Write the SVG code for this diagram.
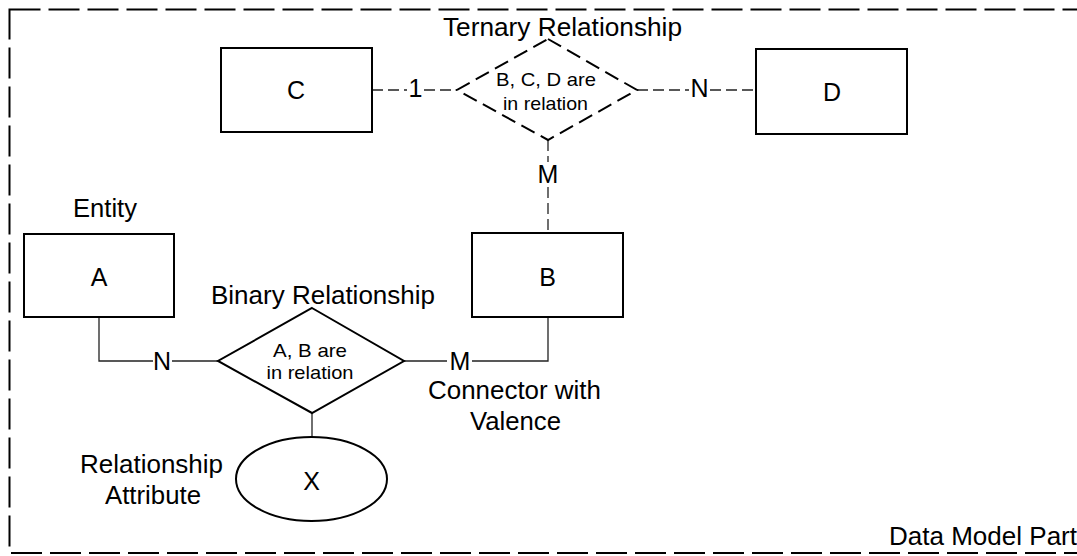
<svg xmlns="http://www.w3.org/2000/svg" width="1077" height="556" viewBox="0 0 1077 556">
<style>
text{font-family:"Liberation Sans",Arial,sans-serif;fill:#000;text-anchor:middle}
.lbl{font-size:25px}
.inner{font-size:19px}
.ent{fill:#fff;stroke:#000;stroke-width:2}
.rel{fill:#fff;stroke:#000;stroke-width:2}
.reld{fill:#fff;stroke:#000;stroke-width:2;stroke-dasharray:15 7}
.con{fill:none;stroke:#222;stroke-width:1.3}
.cond{fill:none;stroke:#222;stroke-width:1.3;stroke-dasharray:11 5}
</style>
<rect x="9.5" y="9.5" width="1090" height="543.5" fill="none" stroke="#000" stroke-width="2" stroke-dasharray="31 8"/>
<text class="lbl" x="983" y="545" textLength="188" lengthAdjust="spacingAndGlyphs">Data Model Part</text>

<g id="connectors">
  <polyline class="cond" points="372,90 407,90"/>
  <polyline class="cond" points="424,90 457,90"/>
  <text class="lbl" x="415.5" y="97">1</text>
  <polyline class="cond" points="637,90 689,90"/>
  <polyline class="cond" points="710,90 756,90"/>
  <text class="lbl" x="699.5" y="97">N</text>
  <polyline class="cond" points="548,140 548,162"/>
  <polyline class="cond" points="548,187 548,233"/>
  <text class="lbl" x="548" y="183">M</text>
  <polyline class="con" points="99,317 99,361 153,361"/>
  <polyline class="con" points="172,361 218,361"/>
  <text class="lbl" x="162" y="370">N</text>
  <polyline class="con" points="404,361 447,361"/>
  <polyline class="con" points="472,361 548,361 548,317"/>
  <text class="lbl" x="460" y="370">M</text>
  <polyline class="con" points="312,413 312,437"/>
  <text class="lbl" x="514.5" y="399" textLength="173" lengthAdjust="spacingAndGlyphs">Connector with</text>
  <text class="lbl" x="515.5" y="430" textLength="91" lengthAdjust="spacingAndGlyphs">Valence</text>
</g>

<g id="node-C">
  <rect class="ent" x="221" y="48" width="151" height="84"/>
  <text class="lbl" x="296" y="99">C</text>
</g>
<g id="node-D">
  <rect class="ent" x="756" y="49" width="151" height="85"/>
  <text class="lbl" x="832" y="101">D</text>
</g>
<g id="node-ternary">
  <text class="lbl" x="562.5" y="36" textLength="239" lengthAdjust="spacingAndGlyphs">Ternary Relationship</text>
  <polygon class="reld" points="548,39 637,90 548,140 457,90"/>
  <text class="inner" x="546" y="86" textLength="100" lengthAdjust="spacingAndGlyphs">B, C, D are</text>
  <text class="inner" x="545.5" y="110" textLength="85" lengthAdjust="spacingAndGlyphs">in relation</text>
</g>
<g id="node-A">
  <text class="lbl" x="105" y="217" textLength="64" lengthAdjust="spacingAndGlyphs">Entity</text>
  <rect class="ent" x="24" y="234" width="150" height="83"/>
  <text class="lbl" x="99" y="286">A</text>
</g>
<g id="node-B">
  <rect class="ent" x="472" y="233" width="151" height="84"/>
  <text class="lbl" x="547.5" y="286">B</text>
</g>
<g id="node-binary">
  <text class="lbl" x="323" y="304" textLength="224" lengthAdjust="spacingAndGlyphs">Binary Relationship</text>
  <polygon class="rel" points="312,308 404,361 312,413 218,361"/>
  <text class="inner" x="310" y="357" textLength="74" lengthAdjust="spacingAndGlyphs">A, B are</text>
  <text class="inner" x="310" y="379" textLength="87" lengthAdjust="spacingAndGlyphs">in relation</text>
</g>
<g id="node-X">
  <ellipse class="ent" cx="311.5" cy="479" rx="75.5" ry="42"/>
  <text class="lbl" x="311.5" y="490">X</text>
  <text class="lbl" x="151.5" y="473" textLength="143" lengthAdjust="spacingAndGlyphs">Relationship</text>
  <text class="lbl" x="153" y="504" textLength="96" lengthAdjust="spacingAndGlyphs">Attribute</text>
</g>
</svg>
